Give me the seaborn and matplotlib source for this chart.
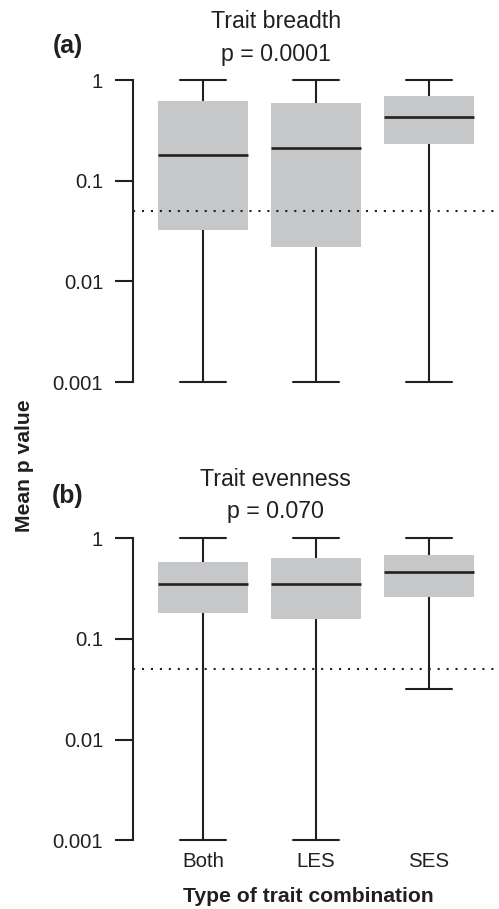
import numpy as np
import pandas as pd
import matplotlib
matplotlib.use("Agg")
import matplotlib.pyplot as plt
from matplotlib.ticker import NullLocator
import seaborn as sns

# ---- data ----
categories = ["Both", "LES", "SES"]

# Panel (a): Trait breadth
breadth_low = [0.001, 0.001, 0.001]
breadth_q1 = [0.0326, 0.0221, 0.233]
breadth_med = [0.180, 0.210, 0.426]
breadth_q3 = [0.620, 0.590, 0.700]
breadth_high = [1.0, 1.0, 1.0]

# Panel (b): Trait evenness
evenness_low = [0.001, 0.001, 0.032]
evenness_q1 = [0.182, 0.159, 0.260]
evenness_med = [0.352, 0.350, 0.460]
evenness_q3 = [0.578, 0.637, 0.678]
evenness_high = [1.0, 1.0, 1.0]

threshold = 0.05
y_ticks = [1, 0.1, 0.01, 0.001]
y_ticklabels = ["1", "0.1", "0.01", "0.001"]

panel_titles = ["Trait breadth\np = 0.0001", "Trait evenness\np = 0.070"]
panel_tags = ["(a)", "(b)"]


def make_df(low, q1, med, q3, high):
    rows = []
    for i, c in enumerate(categories):
        for v in (low[i], q1[i], med[i], q3[i], high[i]):
            rows.append({"combo": c, "p": v})
    return pd.DataFrame(rows)


df_a = make_df(breadth_low, breadth_q1, breadth_med, breadth_q3, breadth_high)
df_b = make_df(evenness_low, evenness_q1, evenness_med, evenness_q3, evenness_high)

# ---- style ----
sns.set_style("ticks")
plt.rcParams["font.family"] = ["Liberation Sans", "DejaVu Sans"]
dark = "#231F20"
gray = "#C6C7C9"

W, H = 499, 909
fig = plt.figure(figsize=(W / 100, H / 100), dpi=100)

left = 133 / W
width = (W - 133) / W
ax_h = 326.16 / H
ax_a = fig.add_axes([left, (H - 394.08) / H, width, ax_h])
ax_b = fig.add_axes([left, (H - 852.4) / H, width, ax_h])

for ax, df in ((ax_a, df_a), (ax_b, df_b)):
    sns.boxplot(
        data=df, x="combo", y="p", ax=ax, order=categories,
        log_scale=True, whis=(0, 100), width=0.8, saturation=1,
        color=gray, linecolor=dark, linewidth=1.5, showfliers=False,
        boxprops={"facecolor": gray, "edgecolor": gray, "linewidth": 0},
        medianprops={"color": dark, "linewidth": 1.9},
        whiskerprops={"color": dark, "linewidth": 1.5},
        capprops={"color": dark, "linewidth": 1.5},
    )
    ax.axhline(threshold, color=dark, lw=1.5, linestyle=(0, (1, 3.3)), zorder=5)
    ax.set_xlim(-0.619, 2.619)
    ax.set_ylim(10 ** -3.12, 10 ** 0.12)
    ax.set_yticks(y_ticks, labels=y_ticklabels)
    ax.yaxis.set_minor_locator(NullLocator())
    for s in ("top", "right", "bottom"):
        ax.spines[s].set_visible(False)
    ax.spines["left"].set_bounds(0.001, 1)
    ax.spines["left"].set_linewidth(1.5)
    ax.spines["left"].set_color(dark)
    ax.tick_params(axis="y", length=13, width=1.5, pad=8.5, labelsize=14.7,
                   colors=dark)
    ax.set_xlabel("")
    ax.set_ylabel("")

ax_a.tick_params(axis="x", length=0, labelbottom=False)
ax_b.tick_params(axis="x", length=0, pad=0, labelsize=14.8, colors=dark)

# titles and panel tags
tx = 275.9 / W
fig.text(tx, 1 - 28.5 / H, "Trait breadth", ha="center", va="baseline",
         fontsize=16.7, color=dark)
fig.text(tx, 1 - 61.5 / H, "p = 0.0001", ha="center", va="baseline",
         fontsize=16.7, color=dark)
fig.text(tx, 1 - 486 / H, "Trait evenness", ha="center", va="baseline",
         fontsize=16.7, color=dark)
fig.text(tx, 1 - 518 / H, "p = 0.070", ha="center", va="baseline",
         fontsize=16.7, color=dark)
fig.text(68 / W, 1 - 46.5 / H, panel_tags[0], ha="center", va="center",
         fontsize=17.8, fontweight="bold", color=dark)
fig.text(68 / W, 1 - 496 / H, panel_tags[1], ha="center", va="center",
         fontsize=17.8, fontweight="bold", color=dark)

# axis labels
fig.text(24 / W, 1 - 466 / H, "Mean p value", rotation=90, ha="center",
         va="center", fontsize=15.2, fontweight="bold", color=dark)
fig.text(307.9 / W, 1 - 901.7 / H, "Type of trait combination", ha="center",
         va="baseline", fontsize=15.2, fontweight="bold", color=dark)

fig.savefig("out.png", dpi=100)
